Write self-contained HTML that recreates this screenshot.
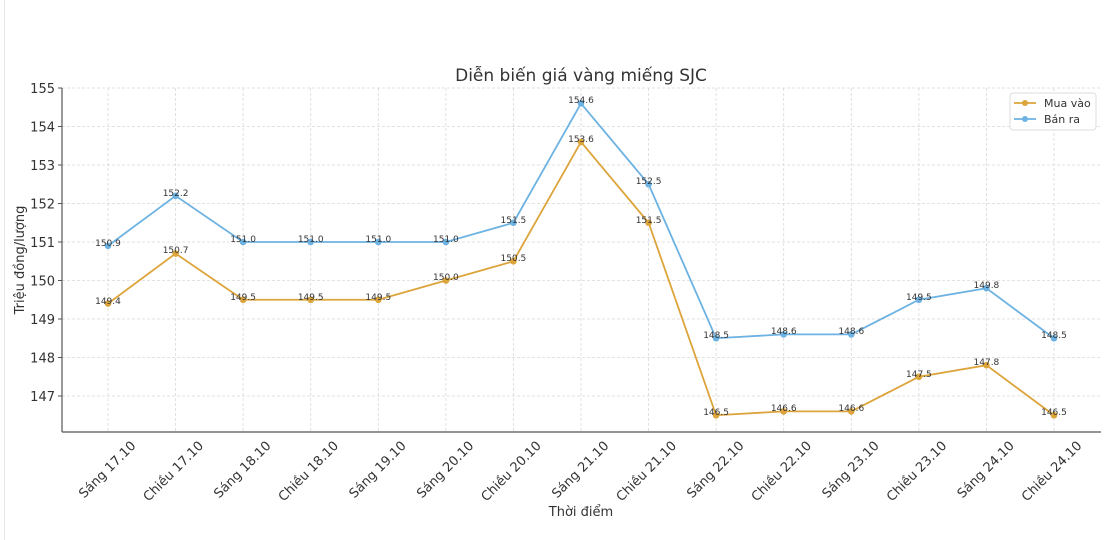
<!DOCTYPE html>
<html><head><meta charset="utf-8"><style>
html,body{margin:0;padding:0;background:#fff;}
svg{display:block;font-family:"DejaVu Sans","Liberation Sans",sans-serif;}
</style></head><body>
<svg width="1110" height="540" viewBox="0 0 1110 540" xmlns="http://www.w3.org/2000/svg">
<rect x="0" y="0" width="1110" height="540" fill="#fff"/>
<line x1="4.5" y1="0" x2="4.5" y2="540" stroke="#e6e6e6"/>
<text x="581" y="81" text-anchor="middle" font-size="17" fill="#333">Diễn biến giá vàng miếng SJC</text>
<g stroke="#d9d9d9" stroke-width="0.8" stroke-dasharray="3,2">
<line x1="62" x2="1101" y1="88" y2="88"/><line x1="62" x2="1101" y1="126.5" y2="126.5"/><line x1="62" x2="1101" y1="165" y2="165"/><line x1="62" x2="1101" y1="203.5" y2="203.5"/><line x1="62" x2="1101" y1="242" y2="242"/><line x1="62" x2="1101" y1="280.5" y2="280.5"/><line x1="62" x2="1101" y1="319" y2="319"/><line x1="62" x2="1101" y1="357.5" y2="357.5"/><line x1="62" x2="1101" y1="396" y2="396"/>
<line y1="88" y2="432" x1="108" x2="108"/><line y1="88" y2="432" x1="175.6" x2="175.6"/><line y1="88" y2="432" x1="243.1" x2="243.1"/><line y1="88" y2="432" x1="310.7" x2="310.7"/><line y1="88" y2="432" x1="378.3" x2="378.3"/><line y1="88" y2="432" x1="445.9" x2="445.9"/><line y1="88" y2="432" x1="513.4" x2="513.4"/><line y1="88" y2="432" x1="581" x2="581"/><line y1="88" y2="432" x1="648.6" x2="648.6"/><line y1="88" y2="432" x1="716.1" x2="716.1"/><line y1="88" y2="432" x1="783.7" x2="783.7"/><line y1="88" y2="432" x1="851.3" x2="851.3"/><line y1="88" y2="432" x1="918.9" x2="918.9"/><line y1="88" y2="432" x1="986.4" x2="986.4"/><line y1="88" y2="432" x1="1054" x2="1054"/>
</g>
<g stroke="#555" stroke-width="1.2"><line x1="62" y1="88" x2="62" y2="432"/><line x1="62" y1="432" x2="1101" y2="432"/></g>
<g stroke="#555"><line x1="58" x2="62" y1="88" y2="88"/><line x1="58" x2="62" y1="126.5" y2="126.5"/><line x1="58" x2="62" y1="165" y2="165"/><line x1="58" x2="62" y1="203.5" y2="203.5"/><line x1="58" x2="62" y1="242" y2="242"/><line x1="58" x2="62" y1="280.5" y2="280.5"/><line x1="58" x2="62" y1="319" y2="319"/><line x1="58" x2="62" y1="357.5" y2="357.5"/><line x1="58" x2="62" y1="396" y2="396"/></g>
<g font-size="13" fill="#333" text-anchor="end">
<text x="55" y="93">155</text><text x="55" y="131.5">154</text><text x="55" y="170">153</text><text x="55" y="208.5">152</text><text x="55" y="247">151</text><text x="55" y="285.5">150</text><text x="55" y="324">149</text><text x="55" y="362.5">148</text><text x="55" y="401">147</text>
</g>
<text transform="translate(24,260) rotate(-90)" text-anchor="middle" font-size="13" fill="#333">Triệu đồng/lượng</text>
<text x="581" y="516" text-anchor="middle" font-size="13" fill="#333">Thời điểm</text>
<g font-size="13" fill="#333" text-anchor="end">
<text transform="translate(130,440) rotate(-45)" dy="0.7em">Sáng 17.10</text>
<text transform="translate(197.6,440) rotate(-45)" dy="0.7em">Chiều 17.10</text>
<text transform="translate(265.1,440) rotate(-45)" dy="0.7em">Sáng 18.10</text>
<text transform="translate(332.7,440) rotate(-45)" dy="0.7em">Chiều 18.10</text>
<text transform="translate(400.3,440) rotate(-45)" dy="0.7em">Sáng 19.10</text>
<text transform="translate(467.9,440) rotate(-45)" dy="0.7em">Sáng 20.10</text>
<text transform="translate(535.4,440) rotate(-45)" dy="0.7em">Chiều 20.10</text>
<text transform="translate(603,440) rotate(-45)" dy="0.7em">Sáng 21.10</text>
<text transform="translate(670.6,440) rotate(-45)" dy="0.7em">Chiều 21.10</text>
<text transform="translate(738.1,440) rotate(-45)" dy="0.7em">Sáng 22.10</text>
<text transform="translate(805.7,440) rotate(-45)" dy="0.7em">Chiều 22.10</text>
<text transform="translate(873.3,440) rotate(-45)" dy="0.7em">Sáng 23.10</text>
<text transform="translate(940.9,440) rotate(-45)" dy="0.7em">Chiều 23.10</text>
<text transform="translate(1008.4,440) rotate(-45)" dy="0.7em">Sáng 24.10</text>
<text transform="translate(1076,440) rotate(-45)" dy="0.7em">Chiều 24.10</text>
</g>
<polyline fill="none" stroke="#6cb2e2" stroke-width="1.8" points="108,245.85 175.6,195.8 243.1,242 310.7,242 378.3,242 445.9,242 513.4,222.75 581,103.4 648.6,184.25 716.1,338.25 783.7,334.4 851.3,334.4 918.9,299.75 986.4,288.2 1054,338.25"/>
<g fill="#6cb2e2"><circle cx="108" cy="245.85" r="3.3"/><circle cx="175.6" cy="195.8" r="3.3"/><circle cx="243.1" cy="242" r="3.3"/><circle cx="310.7" cy="242" r="3.3"/><circle cx="378.3" cy="242" r="3.3"/><circle cx="445.9" cy="242" r="3.3"/><circle cx="513.4" cy="222.75" r="3.3"/><circle cx="581" cy="103.4" r="3.3"/><circle cx="648.6" cy="184.25" r="3.3"/><circle cx="716.1" cy="338.25" r="3.3"/><circle cx="783.7" cy="334.4" r="3.3"/><circle cx="851.3" cy="334.4" r="3.3"/><circle cx="918.9" cy="299.75" r="3.3"/><circle cx="986.4" cy="288.2" r="3.3"/><circle cx="1054" cy="338.25" r="3.3"/></g>
<polyline fill="none" stroke="#dca43a" stroke-width="1.8" points="108,303.6 175.6,253.55 243.1,299.75 310.7,299.75 378.3,299.75 445.9,280.5 513.4,261.25 581,141.9 648.6,222.75 716.1,415.25 783.7,411.4 851.3,411.4 918.9,376.75 986.4,365.2 1054,415.25"/>
<g fill="#dca43a"><circle cx="108" cy="303.6" r="3.3"/><circle cx="175.6" cy="253.55" r="3.3"/><circle cx="243.1" cy="299.75" r="3.3"/><circle cx="310.7" cy="299.75" r="3.3"/><circle cx="378.3" cy="299.75" r="3.3"/><circle cx="445.9" cy="280.5" r="3.3"/><circle cx="513.4" cy="261.25" r="3.3"/><circle cx="581" cy="141.9" r="3.3"/><circle cx="648.6" cy="222.75" r="3.3"/><circle cx="716.1" cy="415.25" r="3.3"/><circle cx="783.7" cy="411.4" r="3.3"/><circle cx="851.3" cy="411.4" r="3.3"/><circle cx="918.9" cy="376.75" r="3.3"/><circle cx="986.4" cy="365.2" r="3.3"/><circle cx="1054" cy="415.25" r="3.3"/></g>
<g font-size="9" fill="#333" text-anchor="middle">
<text x="108" y="246">150.9</text><text x="175.6" y="196">152.2</text><text x="243.1" y="242">151.0</text><text x="310.7" y="242">151.0</text><text x="378.3" y="242">151.0</text><text x="445.9" y="242">151.0</text><text x="513.4" y="223">151.5</text><text x="581" y="103">154.6</text><text x="648.6" y="184">152.5</text><text x="716.1" y="338">148.5</text><text x="783.7" y="334">148.6</text><text x="851.3" y="334">148.6</text><text x="918.9" y="300">149.5</text><text x="986.4" y="288">149.8</text><text x="1054" y="338">148.5</text>
<text x="108" y="304">149.4</text><text x="175.6" y="253">150.7</text><text x="243.1" y="300">149.5</text><text x="310.7" y="300">149.5</text><text x="378.3" y="300">149.5</text><text x="445.9" y="280">150.0</text><text x="513.4" y="261">150.5</text><text x="581" y="142">153.6</text><text x="648.6" y="223">151.5</text><text x="716.1" y="415">146.5</text><text x="783.7" y="411">146.6</text><text x="851.3" y="411">146.6</text><text x="918.9" y="377">147.5</text><text x="986.4" y="365">147.8</text><text x="1054" y="415">146.5</text>
</g>
<rect x="1010" y="93" width="86" height="37" rx="3" fill="#fff" fill-opacity="0.85" stroke="#ddd"/>
<line x1="1014" y1="103" x2="1036" y2="103" stroke="#dca43a" stroke-width="1.8"/><circle cx="1025" cy="103" r="3" fill="#dca43a"/>
<line x1="1014" y1="119" x2="1036" y2="119" stroke="#6cb2e2" stroke-width="1.8"/><circle cx="1025" cy="119" r="3" fill="#6cb2e2"/>
<text x="1044" y="107" font-size="11" fill="#333">Mua vào</text>
<text x="1044" y="123" font-size="11" fill="#333">Bán ra</text>
</svg>
</body></html>
